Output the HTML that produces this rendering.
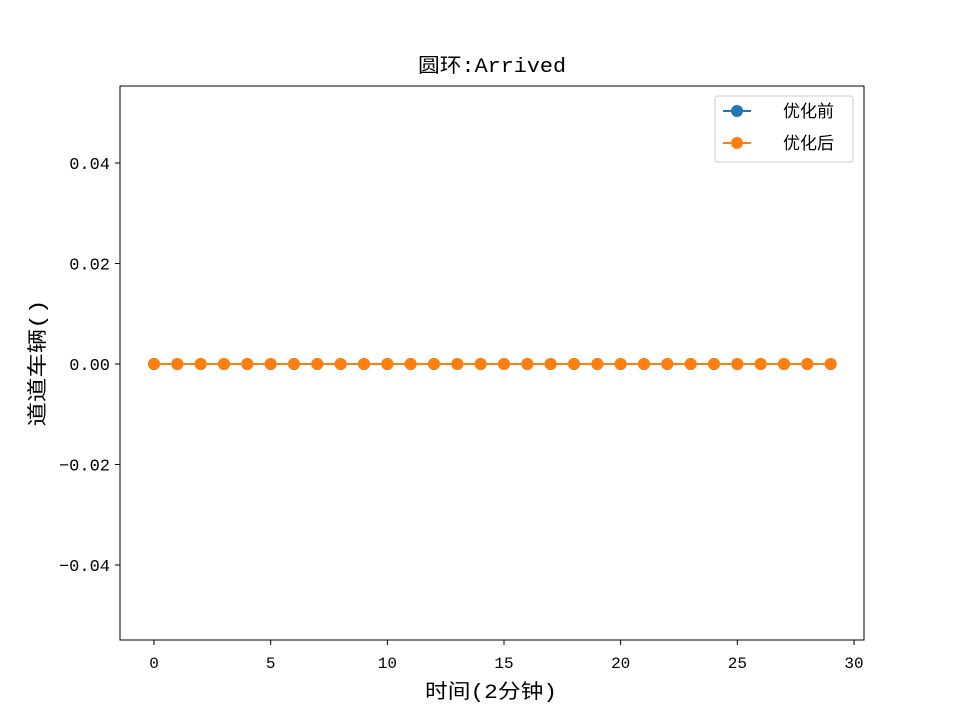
<!DOCTYPE html>
<html><head><meta charset="utf-8"><style>
body{margin:0;background:#fff}
svg text{font-family:"Liberation Mono","Noto Sans CJK SC",monospace;fill:#000}
</style></head><body>
<svg width="960" height="720" xmlns="http://www.w3.org/2000/svg">
<rect width="960" height="720" fill="#fff"/>
<g id="plot"></g>
<rect x="120" y="86" width="744" height="554" fill="none" stroke="#000" stroke-width="1"/>
<text x="492" y="72" font-size="20" text-anchor="middle" textLength="148" lengthAdjust="spacingAndGlyphs">圆环:Arrived</text>
<text x="491" y="698" font-size="20" text-anchor="middle" textLength="132" lengthAdjust="spacingAndGlyphs">时间(2分钟)</text>
<text transform="translate(44,363) rotate(-90)" font-size="20" text-anchor="middle" textLength="127" lengthAdjust="spacingAndGlyphs">道道车辆()</text>
<g>
<rect x="715" y="96" width="138" height="66" rx="3" fill="#fff" stroke="#ccc"/>
<g>
<line x1="723" y1="111" x2="751" y2="111" stroke="#1f77b4" stroke-width="2"/><circle cx="737" cy="111" r="6" fill="#1f77b4"/>
<text x="783" y="117" font-size="17">优化前</text></g>
<g>
<line x1="723" y1="143" x2="751" y2="143" stroke="#ff7f0e" stroke-width="2"/><circle cx="737" cy="143" r="6" fill="#ff7f0e"/>
<text x="783" y="149" font-size="17">优化后</text></g>
</g>
</svg>
<script>
const xTicks=[0,5,10,15,20,25,30];
const yTicks=[-0.04,-0.02,0.00,0.02,0.04];
const yTickLabels=["−0.04","−0.02","0.00","0.02","0.04"];
const times=[0,1,2,3,4,5,6,7,8,9,10,11,12,13,14,15,16,17,18,19,20,21,22,23,24,25,26,27,28,29];
const before=[0,0,0,0,0,0,0,0,0,0,0,0,0,0,0,0,0,0,0,0,0,0,0,0,0,0,0,0,0,0];
const after=[0,0,0,0,0,0,0,0,0,0,0,0,0,0,0,0,0,0,0,0,0,0,0,0,0,0,0,0,0,0];
const NS="http://www.w3.org/2000/svg";
const X=v=>154+v*(700/30);
const Y=v=>364-v*(201/0.04);
const g=document.getElementById('plot');
function mk(t,a){const e=document.createElementNS(NS,t);for(const k in a)e.setAttribute(k,a[k]);g.appendChild(e);return e;}
xTicks.forEach(t=>{
 const l=mk('line',{x1:X(t),x2:X(t),y1:640,y2:645,stroke:'#000'});
 
 
 const tx=mk('text',{x:X(t),y:668,'font-size':16,'text-anchor':'middle'});tx.textContent=t;
 
 
});
yTicks.forEach((t,i)=>{
 const l=mk('line',{x1:115,x2:120,y1:Y(t),y2:Y(t),stroke:'#000'});
 
 
 const tx=mk('text',{x:110,y:Y(t)+6,'font-size':17,'text-anchor':'end'});tx.textContent=yTickLabels[i];
 
 
});
[[before,'#1f77b4','before'],[after,'#ff7f0e','after']].forEach(([d,c,n])=>{
 const p=mk('polyline',{points:d.map((v,i)=>X(times[i])+','+Y(v)).join(' '),fill:'none',stroke:c,'stroke-width':2});
 
 
 d.forEach((v,i)=>{const m=mk('circle',{cx:X(times[i]),cy:Y(v),r:6,fill:c});
  
  });
});
</script>
</body></html>
